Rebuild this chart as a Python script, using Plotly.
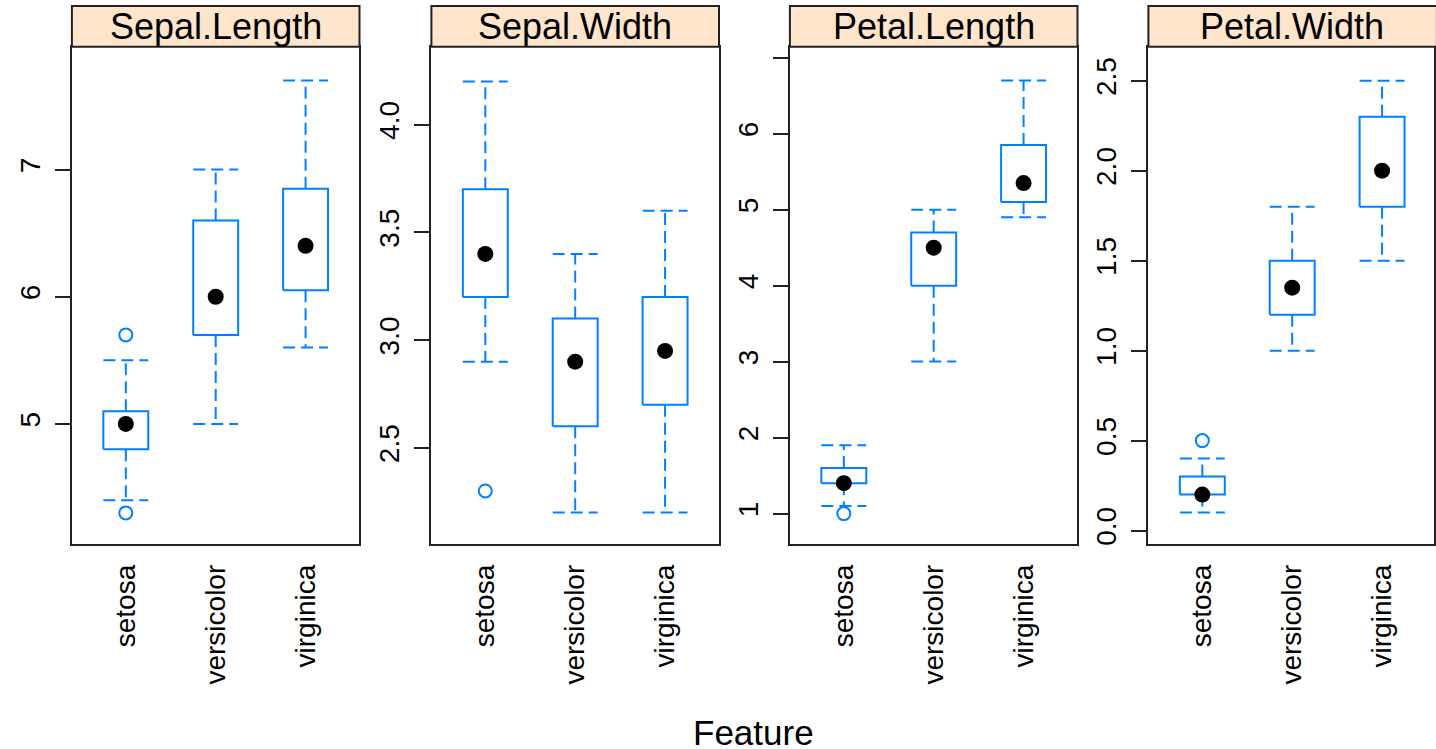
import plotly.graph_objects as go

# ---------------- data ----------------
species = ["setosa", "versicolor", "virginica"]
features = ["Sepal.Length", "Sepal.Width", "Petal.Length", "Petal.Width"]

lower = {
    "Sepal.Length": [4.4, 5.0, 5.6],
    "Sepal.Width": [2.9, 2.2, 2.2],
    "Petal.Length": [1.1, 3.0, 4.9],
    "Petal.Width": [0.1, 1.0, 1.5],
}
q1 = {
    "Sepal.Length": [4.8, 5.7, 6.05],
    "Sepal.Width": [3.2, 2.6, 2.7],
    "Petal.Length": [1.4, 4.0, 5.1],
    "Petal.Width": [0.2, 1.2, 1.8],
}
median = {
    "Sepal.Length": [5.0, 6.0, 6.4],
    "Sepal.Width": [3.4, 2.9, 2.95],
    "Petal.Length": [1.4, 4.5, 5.35],
    "Petal.Width": [0.2, 1.35, 2.0],
}
q3 = {
    "Sepal.Length": [5.1, 6.6, 6.85],
    "Sepal.Width": [3.7, 3.1, 3.2],
    "Petal.Length": [1.6, 4.7, 5.85],
    "Petal.Width": [0.3, 1.5, 2.3],
}
upper = {
    "Sepal.Length": [5.5, 7.0, 7.7],
    "Sepal.Width": [4.2, 3.4, 3.6],
    "Petal.Length": [1.9, 5.0, 6.7],
    "Petal.Width": [0.4, 1.8, 2.5],
}
outliers = {
    "Sepal.Length": [[5.7, 4.3], [], []],
    "Sepal.Width": [[2.3], [], []],
    "Petal.Length": [[1.0], [], []],
    "Petal.Width": [[0.5], [], []],
}
y_tickvals = {
    "Sepal.Length": [5, 6, 7],
    "Sepal.Width": [2.5, 3.0, 3.5, 4.0],
    "Petal.Length": [1, 2, 3, 4, 5, 6, 7],
    "Petal.Width": [0.0, 0.5, 1.0, 1.5, 2.0, 2.5],
}
y_ticktext = {
    "Sepal.Length": ["5", "6", "7"],
    "Sepal.Width": ["2.5", "3.0", "3.5", "4.0"],
    "Petal.Length": ["1", "2", "3", "4", "5", "6", ""],
    "Petal.Width": ["0.0", "0.5", "1.0", "1.5", "2.0", "2.5"],
}
y_ranges = {
    "Sepal.Length": [4.059, 7.965],
    "Sepal.Width": [2.056, 4.361],
    "Petal.Length": [0.606, 7.142],
    "Petal.Width": [-0.072, 2.688],
}
x_label = "Feature"

# ---------------- layout geometry ----------------
W, H = 1436, 749
panel_left = [72, 432, 791, 1150]
panel_w = 288
plot_top, plot_bottom = 47, 545
strip_top = 6
BLUE = "#0080ff"
FONT = "Liberation Sans, Arial, Helvetica, sans-serif"
half = 0.25
DASH = "12px,6px"

fig = go.Figure()
layout = dict(
    width=W, height=H, autosize=False,
    margin=dict(l=0, r=0, t=0, b=0),
    paper_bgcolor="white", plot_bgcolor="white",
    showlegend=False, hovermode=False,
    font=dict(family=FONT, color="black"),
)
shapes = []
annotations = []

y0p = (H - plot_bottom) / H
y1p = (H - plot_top) / H
s1p = (H - strip_top) / H

for i, f in enumerate(features):
    xa = "x" if i == 0 else f"x{i+1}"
    ya = "y" if i == 0 else f"y{i+1}"
    left = panel_left[i]
    right = min(left + panel_w, W)
    xr_right = 0.4 + 3.2 * (right - left) / panel_w
    d0, d1 = left / W, right / W

    for j, sp in enumerate(species):
        c = j + 1
        # box
        fig.add_trace(go.Scatter(
            x=[c - half, c + half, c + half, c - half, c - half],
            y=[q1[f][j], q1[f][j], q3[f][j], q3[f][j], q1[f][j]],
            mode="lines", line=dict(color=BLUE, width=2),
            xaxis=xa, yaxis=ya))
        # whiskers and caps
        for a, b in [(q3[f][j], upper[f][j]), (q1[f][j], lower[f][j])]:
            fig.add_trace(go.Scatter(
                x=[c, c], y=[a, b], mode="lines",
                line=dict(color=BLUE, width=2, dash=DASH),
                xaxis=xa, yaxis=ya))
            fig.add_trace(go.Scatter(
                x=[c - half, c + half], y=[b, b], mode="lines",
                line=dict(color=BLUE, width=2, dash=DASH),
                xaxis=xa, yaxis=ya))
        # outliers
        if outliers[f][j]:
            fig.add_trace(go.Scatter(
                x=[c] * len(outliers[f][j]), y=outliers[f][j], mode="markers",
                marker=dict(symbol="circle-open", size=13, color=BLUE,
                            line=dict(width=2, color=BLUE)),
                xaxis=xa, yaxis=ya))
    # medians
    fig.add_trace(go.Scatter(
        x=[1, 2, 3], y=median[f], mode="markers",
        marker=dict(symbol="circle", size=16, color="black"),
        xaxis=xa, yaxis=ya))

    xkey = "xaxis" if i == 0 else f"xaxis{i+1}"
    ykey = "yaxis" if i == 0 else f"yaxis{i+1}"
    layout[xkey] = dict(
        domain=[d0, d1], range=[0.4, xr_right], anchor=ya,
        tickvals=[1, 2, 3], ticktext=species, tickangle=-90,
        ticks="", showgrid=False, zeroline=False,
        showline=True, mirror=True, linecolor="#222", linewidth=2,
        tickfont=dict(size=28, family=FONT, color="black"),
        ticklabelstandoff=8, fixedrange=True,
    )
    layout[ykey] = dict(
        domain=[y0p, y1p], range=y_ranges[f], anchor=xa,
        tickvals=y_tickvals[f], ticktext=y_ticktext[f], tickangle=-90,
        ticks="outside", ticklen=15, tickwidth=2, tickcolor="#222",
        showgrid=False, zeroline=False,
        showline=True, mirror=True, linecolor="#222", linewidth=2,
        tickfont=dict(size=28, family=FONT, color="black"),
        ticklabelstandoff=4, fixedrange=True,
    )
    # strip
    shapes.append(dict(type="rect", xref="paper", yref="paper",
                       x0=d0, x1=d1 if right < W else 1.002, y0=y1p, y1=s1p,
                       fillcolor="#ffe5cc", line=dict(color="#222", width=2),
                       layer="above"))
    annotations.append(dict(
        text=f, xref="paper", yref="paper",
        x=(left + (left + panel_w)) / 2 / W, y=(y1p + s1p) / 2,
        xanchor="center", yanchor="middle", showarrow=False,
        font=dict(size=36, family=FONT, color="black")))

annotations.append(dict(
    text=x_label, xref="paper", yref="paper",
    x=755 / W, y=(H - 734) / H, xanchor="center", yanchor="middle",
    showarrow=False, font=dict(size=35, family=FONT, color="black")))

layout["shapes"] = shapes
layout["annotations"] = annotations
fig.update_layout(**layout)
fig.write_html(
    "out.html",
    config={"displayModeBar": False, "staticPlot": True},
    post_script="document.body.style.margin='0';document.body.style.overflow='hidden';",
)
